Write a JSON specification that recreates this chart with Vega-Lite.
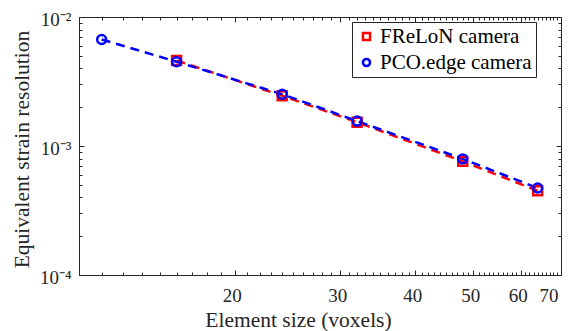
{
  "$schema": "https://vega.github.io/schema/vega-lite/v6.json",
  "width": 482,
  "height": 258,
  "autosize": "none",
  "padding": {"left": 79, "top": 17, "right": 7, "bottom": 56},
  "background": "white",
  "config": {
    "font": "Liberation Serif",
    "view": {"stroke": "#262626", "strokeWidth": 1},
    "axis": {
      "domain": false,
      "grid": false,
      "tickColor": "#262626",
      "tickWidth": 1,
      "labelFont": "Liberation Serif",
      "labelFontSize": 19,
      "labelColor": "#262626",
      "labelOverlap": false,
      "titleFont": "Liberation Serif",
      "titleFontSize": 21.5,
      "titleFontWeight": "normal",
      "titleColor": "#262626"
    }
  },
  "data": {
    "values": [
      {"camera": "FReLoN camera", "size": 16, "res": 0.0046},
      {"camera": "FReLoN camera", "size": 24, "res": 0.00245},
      {"camera": "FReLoN camera", "size": 32, "res": 0.00153},
      {"camera": "FReLoN camera", "size": 48, "res": 0.00076},
      {"camera": "FReLoN camera", "size": 64, "res": 0.00045},
      {"camera": "PCO.edge camera", "size": 12, "res": 0.0067},
      {"camera": "PCO.edge camera", "size": 16, "res": 0.0045},
      {"camera": "PCO.edge camera", "size": 24, "res": 0.00252},
      {"camera": "PCO.edge camera", "size": 32, "res": 0.00156},
      {"camera": "PCO.edge camera", "size": 48, "res": 0.000795},
      {"camera": "PCO.edge camera", "size": 64, "res": 0.000472}
    ]
  },
  "layer": [
    {
      "mark": {"type": "line", "strokeDash": [9, 6], "strokeWidth": 2.5},
      "encoding": {
        "x": {
          "field": "size", "type": "quantitative",
          "scale": {"type": "log", "domain": [11, 70], "nice": false},
          "axis": {
            "orient": "bottom",
            "values": [20, 30, 40, 50, 60, 70],
            "ticks": false,
            "labelPadding": 11,
            "labelOffset": -3,
            "title": "Element size (voxels)",
            "titleX": 219,
            "titleY": 45,
            "titleBaseline": "middle"
          }
        },
        "y": {
          "field": "res", "type": "quantitative",
          "scale": {"type": "log", "domain": [0.0001, 0.01], "nice": false},
          "axis": {
            "orient": "left",
            "values": [0.0001, 0.001, 0.01],
            "labelExpr": "datum.value > 0.005 ? '10⁻²' : datum.value > 0.0005 ? '10⁻³' : '10⁻⁴'",
            "ticks": false,
            "labelPadding": 8,
            "labelOffset": 2,
            "title": "Equivalent strain resolution",
            "titleX": -57,
            "titleY": 132,
            "titleBaseline": "middle",
            "titleAlign": "center"
          }
        },
        "color": {
          "field": "camera", "type": "nominal",
          "scale": {"domain": ["FReLoN camera", "PCO.edge camera"], "range": ["#ff0000", "#0000ff"]},
          "legend": {
            "title": null,
            "orient": "none",
            "legendX": 273,
            "legendY": 5,
            "strokeColor": "#262626",
            "fillColor": "white",
            "padding": 4,
            "rowPadding": 4,
            "labelFont": "Liberation Serif",
            "labelFontSize": 21,
            "labelColor": "#000000",
            "labelLimit": 0,
            "labelOffset": 3,
            "symbolSize": 50,
            "symbolStrokeWidth": 2.5,
            "labelExpr": "datum.label + '\u00a0\u00a0\u00a0\u00a0\u00a0\u00a0\u00a0'"
          }
        }
      }
    },
    {
      "mark": {"type": "point", "filled": false, "strokeWidth": 2.5, "size": 80, "opacity": 1},
      "encoding": {
        "x": {"field": "size", "type": "quantitative", "axis": {"orient": "bottom", "values": [11,12,13,14,15,16,17,18,19,21,22,23,24,25,26,27,28,29,31,32,33,34,35,36,37,38,39,41,42,43,44,45,46,47,48,49,51,52,53,54,55,56,57,58,59,61,62,63,64,65,66,67,68,69], "labels": false, "title": null, "tickSize": 3, "offset": -3}},
        "y": {"field": "res", "type": "quantitative", "axis": {"orient": "left", "values": [0.0002,0.0003,0.0004,0.0005,0.0006,0.0007,0.0008,0.0009,0.002,0.003,0.004,0.005,0.006,0.007,0.008,0.009], "labels": false, "title": null, "tickSize": 3, "offset": -3}},
        "color": {
          "field": "camera", "type": "nominal",
          "scale": {"domain": ["FReLoN camera", "PCO.edge camera"], "range": ["#ff0000", "#0000ff"]},
          "legend": {
            "title": null,
            "orient": "none",
            "legendX": 273,
            "legendY": 5,
            "strokeColor": "#262626",
            "fillColor": "white",
            "padding": 4,
            "rowPadding": 4,
            "labelFont": "Liberation Serif",
            "labelFontSize": 21,
            "labelColor": "#000000",
            "labelLimit": 0,
            "labelOffset": 3,
            "symbolSize": 50,
            "symbolStrokeWidth": 2.5,
            "labelExpr": "datum.label + '\u00a0\u00a0\u00a0\u00a0\u00a0\u00a0\u00a0'"
          }
        },
        "shape": {
          "field": "camera", "type": "nominal",
          "scale": {"domain": ["FReLoN camera", "PCO.edge camera"], "range": ["square", "circle"]},
          "legend": {
            "title": null,
            "orient": "none",
            "legendX": 273,
            "legendY": 5,
            "labelExpr": "datum.label + '\u00a0\u00a0\u00a0\u00a0\u00a0\u00a0\u00a0'"
          }
        }
      }
    },
    {
      "mark": {"type": "point", "opacity": 0},
      "encoding": {
        "x": {"field": "size", "type": "quantitative", "axis": {"orient": "top", "values": [20, 30, 40, 50, 60, 70], "labels": false, "title": null, "tickSize": 5, "offset": -5}},
        "y": {"field": "res", "type": "quantitative", "axis": {"orient": "right", "values": [0.0001, 0.001, 0.01], "labels": false, "title": null, "tickSize": 5, "offset": -5}}
      }
    },
    {
      "mark": {"type": "point", "opacity": 0},
      "encoding": {
        "x": {"field": "size", "type": "quantitative", "axis": {"orient": "top", "values": [11,12,13,14,15,16,17,18,19,21,22,23,24,25,26,27,28,29,31,32,33,34,35,36,37,38,39,41,42,43,44,45,46,47,48,49,51,52,53,54,55,56,57,58,59,61,62,63,64,65,66,67,68,69], "labels": false, "title": null, "tickSize": 3, "offset": -3}},
        "y": {"field": "res", "type": "quantitative", "axis": {"orient": "right", "values": [0.0002,0.0003,0.0004,0.0005,0.0006,0.0007,0.0008,0.0009,0.002,0.003,0.004,0.005,0.006,0.007,0.008,0.009], "labels": false, "title": null, "tickSize": 3, "offset": -3}}
      }
    },
    {
      "mark": {"type": "point", "opacity": 0},
      "encoding": {
        "x": {"field": "size", "type": "quantitative", "axis": {"orient": "bottom", "values": [20, 30, 40, 50, 60, 70], "labels": false, "title": null, "tickSize": 5, "offset": -5}},
        "y": {"field": "res", "type": "quantitative", "axis": {"orient": "left", "values": [0.0001, 0.001, 0.01], "labels": false, "title": null, "tickSize": 5, "offset": -5}}
      }
    }
  ],
  "resolve": {"axis": {"x": "independent", "y": "independent"}}
}
